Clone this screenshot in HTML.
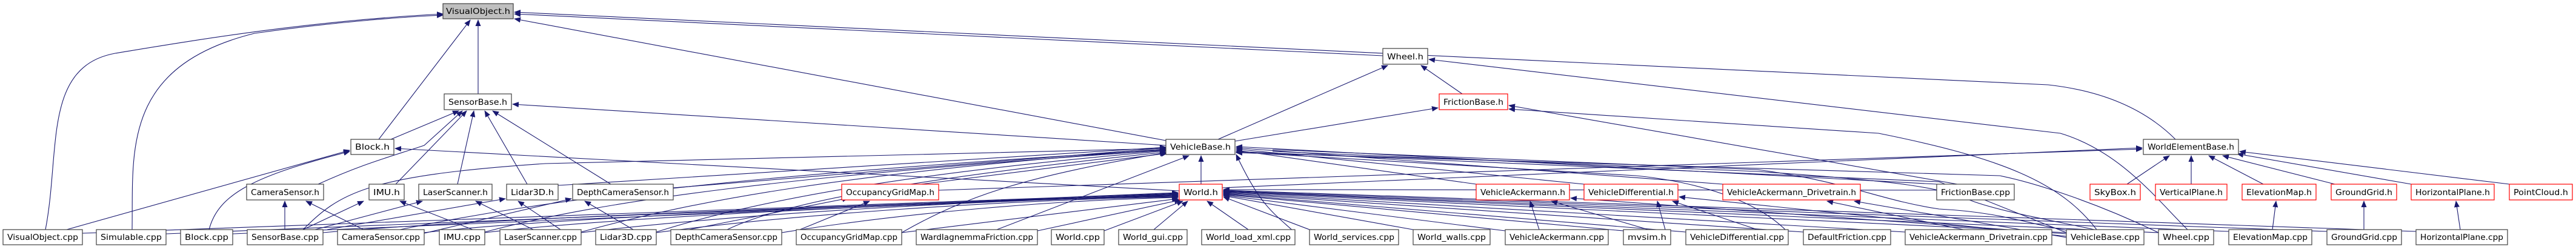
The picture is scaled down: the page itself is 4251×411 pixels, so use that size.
<!DOCTYPE html>
<html><head><meta charset="utf-8"><style>
html,body{margin:0;padding:0;background:#fff;}
svg{display:block;}
text{font-family:"DejaVu Sans","Liberation Sans",sans-serif;font-size:13px;fill:#000;}
.n{fill:#fff;stroke:#404040;stroke-width:1.2;}
.r{fill:#fff;stroke:#ff0000;stroke-width:1.2;}
.g{fill:#bfbfbf;stroke:#404040;stroke-width:1.2;}
.e{fill:none;stroke:#191970;stroke-width:1.1;marker-end:url(#a);}
.l{fill:none;stroke:#191970;stroke-width:1.1;}
</style></head><body>
<svg width="4251" height="411" viewBox="0 0 4251 411" xmlns="http://www.w3.org/2000/svg">
<defs><marker id="a" markerWidth="11" markerHeight="9" refX="10" refY="4.5" orient="auto" markerUnits="userSpaceOnUse"><path d="M0,0 L11,4.5 L0,9z" fill="#191970"/></marker></defs>
<g>
<!-- to VisualObject.h -->
<path class="e" d="M75,379 C100,250 70,110 190,88 C300,70 500,35 731,23"/>
<path class="e" d="M218,379 C220,250 200,110 420,55 C560,35 680,27 731,25"/>
<path class="e" d="M625,230 L776,33"/>
<path class="e" d="M789,155 L789,33"/>
<path class="e" d="M1924,232 L849,31"/>
<path class="e" d="M2282,92 L849,23"/>
<path class="e" d="M3590,230 C3540,180 3470,150 3380,140 L849,20"/>
<!-- to SensorBase.h -->
<path class="e" d="M645,230 L757,183"/>
<path class="e" d="M525,304 C600,270 640,260 700,240 L763,183"/>
<path class="e" d="M653,304 L770,183"/>
<path class="e" d="M755,304 L782,183"/>
<path class="e" d="M870,304 L800,183"/>
<path class="e" d="M1008,304 L813,183"/>
<path class="e" d="M1924,240 L846,172"/>
<!-- Wheel / Friction -->
<path class="e" d="M2010,230 L2290,108"/>
<path class="e" d="M2038,233 L2373,178"/>
<path class="e" d="M2413,155 L2345,108"/>
<path class="e" d="M3610,379 C3560,330 3500,250 3400,220 L2358,98"/>
<path class="e" d="M3230,304 L2490,174"/>
<path class="e" d="M3460,379 C3400,300 3300,260 3100,220 L2490,180"/>
<!-- VehicleBase.h -->
<path class="e" d="M1982,304 L1982,257"/>
<path class="e" d="M1645,379 L1962,257"/>
<path class="e" d="M2436,304 L2040,248"/>
<path class="e" d="M2614,304 L2040,246"/>
<path class="e" d="M2843,304 L2040,244"/>
<path class="e" d="M3196,304 L2040,242"/>
<path class="e" d="M3410,384 C3300,340 3250,320 3200,300 L2040,250"/>
<path class="e" d="M3562,384 C3450,330 3350,300 3300,290 L2040,252"/>
<path class="e" d="M2951,384 C2900,330 2800,300 2700,290 L2040,251"/>
<path class="e" d="M2137,384 C2100,350 2080,340 2040,255"/>
<path class="e" d="M500,379 C560,320 600,290 900,270 L1924,245"/>
<path class="e" d="M660,379 C900,330 1200,290 1924,247"/>
<path class="e" d="M800,383 C1000,330 1300,290 1924,248"/>
<path class="e" d="M959,383 C1150,330 1400,285 1924,246"/>
<path class="e" d="M1083,383 C1250,330 1500,285 1924,249"/>
<path class="e" d="M1200,379 C1300,330 1550,290 1924,251"/>
<path class="e" d="M1488,384 C1600,320 1700,290 1924,252"/>
<path class="e" d="M1520,304 L1926,253"/>
<path class="e" d="M1111,310 L1924,244"/>
<path class="e" d="M921,306 L1924,243"/>
<!-- World.h & Block.h -->
<path class="e" d="M1946,315 L652,245"/>
<path class="e" d="M110,379 L577,248"/>
<path class="e" d="M345,379 C360,320 420,290 577,250"/>
<!-- WorldElementBase.h -->
<path class="e" d="M1549,314 L3535,246"/>
<path class="e" d="M2017,310 L3535,244"/>
<path class="e" d="M3510,304 L3580,257"/>
<path class="e" d="M3616,304 L3616,257"/>
<path class="e" d="M3735,304 L3645,257"/>
<path class="e" d="M3853,304 L3668,257"/>
<path class="e" d="M3979,304 L3692,254"/>
<path class="e" d="M4141,304 L3696,250"/>
<path class="e" d="M3750,379 L3756,332"/>
<path class="e" d="M3901,379 L3901,332"/>
<path class="e" d="M4060,379 L4053,332"/>
<!-- sensors -->
<path class="e" d="M470,379 L470,332"/>
<path class="e" d="M600,379 L505,332"/>
<path class="e" d="M500,379 L600,332"/>
<path class="e" d="M780,379 L660,332"/>
<path class="e" d="M520,379 L697,332"/>
<path class="e" d="M880,379 L785,332"/>
<path class="e" d="M540,379 L834,328"/>
<path class="e" d="M925,379 L855,332"/>
<path class="e" d="M700,385 L943,328"/>
<path class="e" d="M1045,379 L965,332"/>
<path class="e" d="M1320,379 L1435,332"/>
<path class="e" d="M1107,385 L1400,327"/>
<!-- vehicles -->
<path class="e" d="M2540,379 L2525,332"/>
<path class="e" d="M2720,379 L2560,332"/>
<path class="e" d="M2748,379 L2735,332"/>
<path class="e" d="M2900,379 L2760,332"/>
<path class="e" d="M3410,390 L2771,325"/>
<path class="e" d="M3240,379 L3015,332"/>
<path class="e" d="M3410,392 L3060,332"/>
<path class="e" d="M3410,386 L2592,327"/>
<!-- cpp to World.h left -->
<path class="e" d="M136,385 C400,370 1200,350 1944,318"/>
<path class="e" d="M274,386 C600,370 1300,345 1944,319"/>
<path class="e" d="M384,386 C700,370 1300,345 1944,320"/>
<path class="e" d="M533,384 C800,360 1400,340 1944,321"/>
<path class="e" d="M700,384 C900,360 1500,335 1944,322"/>
<path class="e" d="M800,384 C1000,360 1500,335 1944,323"/>
<path class="e" d="M959,384 C1200,355 1600,330 1944,324"/>
<path class="e" d="M1083,384 C1300,355 1650,330 1944,325"/>
<path class="e" d="M1290,384 C1500,350 1750,330 1944,326"/>
<path class="e" d="M1488,384 L1944,328"/>
<path class="e" d="M1712,381 L1948,330"/>
<path class="e" d="M1822,381 L1952,332"/>
<path class="e" d="M1904,379 L1960,332"/>
<path class="e" d="M2060,379 L1992,332"/>
<!-- cpp to World.h right -->
<path class="e" d="M2161,379 L2019,325"/>
<path class="e" d="M2332,379 L2019,323"/>
<path class="e" d="M2484,381 L2019,322"/>
<path class="e" d="M2679,381 L2019,321"/>
<path class="e" d="M2782,383 L2019,320"/>
<path class="e" d="M2976,383 L2019,319"/>
<path class="e" d="M3144,383 L2019,318"/>
<path class="e" d="M3410,384 L2019,317"/>
<path class="e" d="M3562,384 L2019,316"/>
<path class="e" d="M3678,382 L2019,316"/>
<path class="e" d="M3840,382 L2019,315"/>
<path class="e" d="M3987,382 L2019,314"/>
<path class="e" d="M3324,314 L2019,313"/>
<path class="l" d="M3410,380 C3350,370 3300,350 3200,345 C3100,330 3050,300 2900,280 L2100,247"/>
<path class="l" d="M3460,380 C3420,370 3300,350 3250,330 C3200,310 3150,300 2900,283 L2100,250"/>
</g>
<!-- nodes -->
<g>
<rect class="g" x="731" y="6" width="116" height="25"/><text x="736" y="23" textLength="106" lengthAdjust="spacingAndGlyphs">VisualObject.h</text>
<rect class="n" x="733" y="155" width="111" height="26"/><text x="740" y="173" textLength="97" lengthAdjust="spacingAndGlyphs">SensorBase.h</text>
<rect class="n" x="579" y="230" width="71" height="25"/><text x="586" y="247" textLength="57" lengthAdjust="spacingAndGlyphs">Block.h</text>
<rect class="n" x="1924" y="230" width="114" height="25"/><text x="1931" y="247" textLength="100" lengthAdjust="spacingAndGlyphs">VehicleBase.h</text>
<rect class="n" x="2282" y="80" width="74" height="26"/><text x="2289" y="98" textLength="60" lengthAdjust="spacingAndGlyphs">Wheel.h</text>
<rect class="r" x="2375" y="155" width="113" height="26"/><text x="2382" y="173" textLength="99" lengthAdjust="spacingAndGlyphs">FrictionBase.h</text>
<rect class="n" x="3537" y="230" width="157" height="25"/><text x="3544" y="247" textLength="143" lengthAdjust="spacingAndGlyphs">WorldElementBase.h</text>

<rect class="n" x="407" y="304" width="127" height="26"/><text x="414" y="322" textLength="113" lengthAdjust="spacingAndGlyphs">CameraSensor.h</text>
<rect class="n" x="609" y="304" width="58" height="26"/><text x="616" y="322" textLength="44" lengthAdjust="spacingAndGlyphs">IMU.h</text>
<rect class="n" x="691" y="304" width="121" height="26"/><text x="698" y="322" textLength="107" lengthAdjust="spacingAndGlyphs">LaserScanner.h</text>
<rect class="n" x="836" y="304" width="85" height="26"/><text x="843" y="322" textLength="71" lengthAdjust="spacingAndGlyphs">Lidar3D.h</text>
<rect class="n" x="945" y="304" width="166" height="26"/><text x="952" y="322" textLength="152" lengthAdjust="spacingAndGlyphs">DepthCameraSensor.h</text>
<rect class="r" x="1389" y="304" width="160" height="26"/><text x="1396" y="322" textLength="146" lengthAdjust="spacingAndGlyphs">OccupancyGridMap.h</text>
<rect class="r" x="1946" y="304" width="71" height="26"/><text x="1953" y="322" textLength="57" lengthAdjust="spacingAndGlyphs">World.h</text>
<rect class="r" x="2436" y="304" width="154" height="26"/><text x="2443" y="322" textLength="140" lengthAdjust="spacingAndGlyphs">VehicleAckermann.h</text>
<rect class="r" x="2614" y="304" width="155" height="26"/><text x="2621" y="322" textLength="141" lengthAdjust="spacingAndGlyphs">VehicleDifferential.h</text>
<rect class="r" x="2843" y="304" width="227" height="26"/><text x="2850" y="322" textLength="213" lengthAdjust="spacingAndGlyphs">VehicleAckermann_Drivetrain.h</text>
<rect class="n" x="3196" y="304" width="128" height="26"/><text x="3203" y="322" textLength="114" lengthAdjust="spacingAndGlyphs">FrictionBase.cpp</text>
<rect class="r" x="3449" y="304" width="83" height="26"/><text x="3456" y="322" textLength="69" lengthAdjust="spacingAndGlyphs">SkyBox.h</text>
<rect class="r" x="3557" y="304" width="118" height="26"/><text x="3564" y="322" textLength="104" lengthAdjust="spacingAndGlyphs">VerticalPlane.h</text>
<rect class="r" x="3700" y="304" width="122" height="26"/><text x="3707" y="322" textLength="108" lengthAdjust="spacingAndGlyphs">ElevationMap.h</text>
<rect class="r" x="3847" y="304" width="108" height="26"/><text x="3854" y="322" textLength="94" lengthAdjust="spacingAndGlyphs">GroundGrid.h</text>
<rect class="r" x="3979" y="304" width="137" height="26"/><text x="3986" y="322" textLength="123" lengthAdjust="spacingAndGlyphs">HorizontalPlane.h</text>
<rect class="r" x="4141" y="304" width="104" height="26"/><text x="4148" y="322" textLength="90" lengthAdjust="spacingAndGlyphs">PointCloud.h</text>

<rect class="n" x="5" y="379" width="131" height="25"/><text x="12" y="396" textLength="117" lengthAdjust="spacingAndGlyphs">VisualObject.cpp</text>
<rect class="n" x="159" y="379" width="115" height="25"/><text x="166" y="396" textLength="101" lengthAdjust="spacingAndGlyphs">Simulable.cpp</text>
<rect class="n" x="298" y="379" width="86" height="25"/><text x="305" y="396" textLength="72" lengthAdjust="spacingAndGlyphs">Block.cpp</text>
<rect class="n" x="408" y="379" width="125" height="25"/><text x="415" y="396" textLength="111" lengthAdjust="spacingAndGlyphs">SensorBase.cpp</text>
<rect class="n" x="557" y="379" width="143" height="25"/><text x="564" y="396" textLength="129" lengthAdjust="spacingAndGlyphs">CameraSensor.cpp</text>
<rect class="n" x="725" y="379" width="75" height="25"/><text x="732" y="396" textLength="61" lengthAdjust="spacingAndGlyphs">IMU.cpp</text>
<rect class="n" x="825" y="379" width="134" height="25"/><text x="832" y="396" textLength="120" lengthAdjust="spacingAndGlyphs">LaserScanner.cpp</text>
<rect class="n" x="983" y="379" width="100" height="25"/><text x="990" y="396" textLength="86" lengthAdjust="spacingAndGlyphs">Lidar3D.cpp</text>
<rect class="n" x="1107" y="379" width="183" height="25"/><text x="1114" y="396" textLength="169" lengthAdjust="spacingAndGlyphs">DepthCameraSensor.cpp</text>
<rect class="n" x="1314" y="379" width="174" height="25"/><text x="1321" y="396" textLength="160" lengthAdjust="spacingAndGlyphs">OccupancyGridMap.cpp</text>
<rect class="n" x="1512" y="379" width="200" height="25"/><text x="1519" y="396" textLength="186" lengthAdjust="spacingAndGlyphs">WardIagnemmaFriction.cpp</text>
<rect class="n" x="1735" y="379" width="87" height="25"/><text x="1742" y="396" textLength="73" lengthAdjust="spacingAndGlyphs">World.cpp</text>
<rect class="n" x="1846" y="379" width="113" height="25"/><text x="1853" y="396" textLength="99" lengthAdjust="spacingAndGlyphs">World_gui.cpp</text>
<rect class="n" x="1983" y="379" width="154" height="25"/><text x="1990" y="396" textLength="140" lengthAdjust="spacingAndGlyphs">World_load_xml.cpp</text>
<rect class="n" x="2161" y="379" width="147" height="25"/><text x="2168" y="396" textLength="133" lengthAdjust="spacingAndGlyphs">World_services.cpp</text>
<rect class="n" x="2332" y="379" width="127" height="25"/><text x="2339" y="396" textLength="113" lengthAdjust="spacingAndGlyphs">World_walls.cpp</text>
<rect class="n" x="2484" y="379" width="170" height="25"/><text x="2491" y="396" textLength="156" lengthAdjust="spacingAndGlyphs">VehicleAckermann.cpp</text>
<rect class="n" x="2679" y="379" width="78" height="25"/><text x="2686" y="396" textLength="64" lengthAdjust="spacingAndGlyphs">mvsim.h</text>
<rect class="n" x="2782" y="379" width="169" height="25"/><text x="2789" y="396" textLength="155" lengthAdjust="spacingAndGlyphs">VehicleDifferential.cpp</text>
<rect class="n" x="2976" y="379" width="144" height="25"/><text x="2983" y="396" textLength="130" lengthAdjust="spacingAndGlyphs">DefaultFriction.cpp</text>
<rect class="n" x="3144" y="379" width="242" height="25"/><text x="3151" y="396" textLength="228" lengthAdjust="spacingAndGlyphs">VehicleAckermann_Drivetrain.cpp</text>
<rect class="n" x="3410" y="379" width="128" height="25"/><text x="3417" y="396" textLength="114" lengthAdjust="spacingAndGlyphs">VehicleBase.cpp</text>
<rect class="n" x="3562" y="379" width="91" height="25"/><text x="3569" y="396" textLength="77" lengthAdjust="spacingAndGlyphs">Wheel.cpp</text>
<rect class="n" x="3678" y="379" width="137" height="25"/><text x="3685" y="396" textLength="123" lengthAdjust="spacingAndGlyphs">ElevationMap.cpp</text>
<rect class="n" x="3840" y="379" width="123" height="25"/><text x="3847" y="396" textLength="109" lengthAdjust="spacingAndGlyphs">GroundGrid.cpp</text>
<rect class="n" x="3987" y="379" width="151" height="25"/><text x="3994" y="396" textLength="137" lengthAdjust="spacingAndGlyphs">HorizontalPlane.cpp</text>
</g>
</svg>
</body></html>
